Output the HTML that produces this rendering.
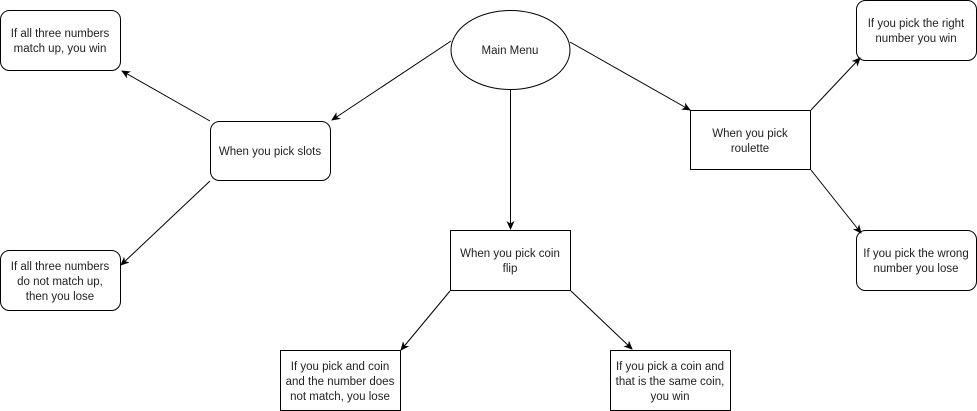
<!DOCTYPE html>
<html><head><style>
body{margin:0;background:#fff;width:977px;height:411px;overflow:hidden}
svg{display:block}
text{font-family:"Liberation Sans",Arial,sans-serif;font-size:11.5px;fill:#222;text-anchor:middle}
</style></head><body>
<svg width="977" height="411" viewBox="0 0 977 411">
<defs><marker id="a" markerWidth="10" markerHeight="10" refX="8" refY="5" orient="auto" markerUnits="userSpaceOnUse"><path d="M0,1 L9,5 L0,9 L2.5,5 Z" fill="#000"/></marker></defs>
<g fill="#fff" stroke="#000" stroke-width="1">
<rect x="0.5" y="10.5" width="120" height="60" rx="9"/>
<ellipse cx="510.5" cy="50" rx="59.5" ry="39.5"/>
<rect x="210.5" y="121.5" width="120" height="59" rx="9"/>
<rect x="690.5" y="110.5" width="120" height="59"/>
<rect x="856.5" y="0.5" width="120" height="60" rx="9"/>
<rect x="856.5" y="230.5" width="120" height="60" rx="9"/>
<rect x="0.5" y="250.5" width="120" height="60" rx="9"/>
<rect x="450.5" y="230.5" width="120" height="60"/>
<rect x="280.5" y="350.5" width="120" height="60"/>
<rect x="610.5" y="350.5" width="120" height="60"/>
</g>
<g stroke="#000" stroke-width="1" marker-end="url(#a)">
<line x1="451" y1="41" x2="332" y2="120"/>
<line x1="570" y1="42" x2="690" y2="110"/>
<line x1="510.5" y1="90" x2="510.5" y2="229"/>
<line x1="210" y1="121" x2="122" y2="71"/>
<line x1="210" y1="181" x2="121" y2="265"/>
<line x1="811" y1="110" x2="860" y2="58"/>
<line x1="811" y1="170" x2="861" y2="233"/>
<line x1="450" y1="291" x2="401" y2="350"/>
<line x1="571" y1="291" x2="632" y2="349"/>
</g>
<text x="60" y="37">If all three numbers</text><text x="60" y="52">match up, you win</text>
<text x="510" y="54">Main Menu</text>
<text x="270" y="155">When you pick slots</text>
<text x="750" y="137">When you pick</text><text x="750" y="152">roulette</text>
<text x="916" y="27">If you pick the right</text><text x="916" y="42">number you win</text>
<text x="916" y="257">If you pick the wrong</text><text x="916" y="272">number you lose</text>
<text x="60" y="270">If all three numbers</text><text x="60" y="285">do not match up,</text><text x="60" y="300">then you lose</text>
<text x="510" y="257">When you pick coin</text><text x="510" y="272">flip</text>
<text x="340" y="370">If you pick and coin</text><text x="340" y="385">and the number does</text><text x="340" y="400">not match, you lose</text>
<text x="670" y="370">If you pick a coin and</text><text x="670" y="385">that is the same coin,</text><text x="670" y="400">you win</text>
</svg>
</body></html>
